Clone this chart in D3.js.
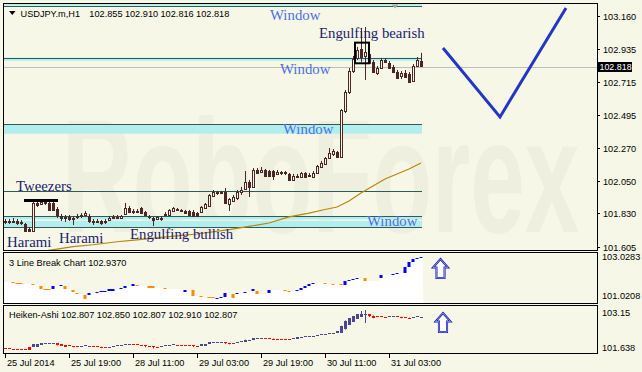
<!DOCTYPE html>
<html><head><meta charset="utf-8">
<script src="https://cdn.jsdelivr.net/npm/d3@7"></script>
<style>html,body{margin:0;padding:0;background:#F7F7E7;}svg{display:block;}</style>
</head><body><svg id="c" width="642" height="372"></svg>
<script>
// ---------------- DATA ----------------
const symbolTitle = "USDJPY.m,H1";
const headerOHLC = ["102.855","102.910","102.816","102.818"];
const timeTickBars = [0,16,32,48,64,80,96];
const timeTickLabels = ["25 Jul 2014","25 Jul 19:00","28 Jul 11:00","29 Jul 03:00","29 Jul 19:00","30 Jul 11:00","31 Jul 03:00"];
const priceTicks = [103.160,102.935,102.715,102.495,102.270,102.050,101.830,101.605];
const lastPrice = 102.818;

const opens = [
101.772,101.779,101.772,101.779,101.765,101.758,101.725,101.711,101.900,101.893,
101.907,101.900,101.900,101.859,101.812,101.799,101.806,101.792,101.806,101.812,
101.819,101.812,101.779,101.772,101.779,101.772,101.785,101.799,101.806,101.799,
101.826,101.866,101.846,101.839,101.866,101.839,101.806,101.799,101.792,101.799,
101.819,101.819,101.846,101.859,101.853,101.846,101.846,101.839,101.832,101.839,
101.866,101.880,101.947,101.974,101.967,101.974,101.893,101.913,101.933,101.974,
101.994,102.041,102.008,102.122,102.108,102.122,102.115,102.115,102.095,102.108,
102.102,102.095,102.055,102.081,102.075,102.102,102.081,102.075,102.102,102.142,
102.162,102.203,102.230,102.243,102.209,102.519,102.647,102.788,102.876,102.936,
102.889,102.903,102.849,102.775,102.808,102.862,102.842,102.815,102.781,102.754,
102.775,102.768,102.721,102.822,102.855];
const highs = [
101.792,101.792,101.799,101.792,101.785,101.765,101.738,101.907,101.920,101.920,
101.920,101.920,101.920,101.873,101.826,101.819,101.819,101.812,101.826,101.832,
101.846,101.826,101.792,101.792,101.785,101.792,101.812,101.819,101.819,101.819,
101.900,101.880,101.859,101.859,101.873,101.846,101.819,101.806,101.812,101.812,
101.839,101.859,101.873,101.866,101.859,101.853,101.853,101.853,101.839,101.880,
101.900,101.960,101.987,101.981,101.981,102.001,101.933,101.954,101.987,102.008,
102.115,102.055,102.135,102.135,102.142,102.129,102.122,102.122,102.122,102.115,
102.115,102.102,102.095,102.095,102.108,102.108,102.102,102.115,102.156,102.183,
102.209,102.270,102.263,102.250,102.532,102.660,102.808,102.889,102.950,103.078,
103.084,102.923,102.862,102.822,102.876,102.876,102.855,102.829,102.795,102.788,
102.795,102.781,102.835,102.882,102.910];
const lows = [
101.758,101.758,101.765,101.752,101.752,101.705,101.705,101.705,101.873,101.886,
101.886,101.846,101.846,101.799,101.779,101.772,101.779,101.752,101.792,101.799,
101.812,101.765,101.752,101.765,101.752,101.758,101.779,101.792,101.792,101.792,
101.819,101.832,101.826,101.832,101.826,101.812,101.792,101.745,101.785,101.779,
101.812,101.812,101.839,101.846,101.839,101.826,101.812,101.806,101.806,101.832,
101.859,101.873,101.940,101.954,101.960,101.893,101.846,101.907,101.920,101.954,
101.987,101.940,102.001,102.095,102.102,102.075,102.075,102.055,102.088,102.088,
102.088,102.048,102.048,102.068,102.068,102.068,102.075,102.068,102.095,102.135,
102.156,102.196,102.216,102.203,102.203,102.505,102.633,102.775,102.862,102.849,
102.728,102.835,102.775,102.761,102.802,102.842,102.802,102.775,102.734,102.734,
102.741,102.707,102.714,102.815,102.816];
const closes = [
101.779,101.772,101.779,101.765,101.772,101.711,101.711,101.900,101.886,101.907,
101.900,101.853,101.853,101.819,101.799,101.806,101.792,101.799,101.812,101.819,
101.832,101.779,101.772,101.779,101.765,101.779,101.799,101.806,101.799,101.812,
101.866,101.839,101.839,101.846,101.832,101.819,101.803,101.785,101.806,101.795,
101.826,101.853,101.866,101.853,101.846,101.832,101.819,101.812,101.812,101.873,
101.893,101.954,101.974,101.967,101.974,101.900,101.927,101.940,101.974,101.987,
102.041,102.008,102.122,102.102,102.122,102.081,102.081,102.081,102.108,102.102,
102.108,102.055,102.081,102.075,102.102,102.075,102.088,102.102,102.149,102.169,
102.203,102.236,102.250,102.209,102.526,102.647,102.788,102.869,102.930,102.882,
102.916,102.842,102.781,102.808,102.862,102.849,102.808,102.781,102.741,102.775,
102.748,102.714,102.822,102.862,102.818];

// moving average (bar index, value)
const maPoints = [[10,101.577],[13,101.590],[17,101.606],[22,101.619],[28,101.639],[33,101.651],[39,101.668],
 [48,101.691],[56,101.721],[61,101.742],[66,101.765],[71,101.806],[76,101.832],[80,101.856],[83,101.873],
 [86,101.913],[89,101.967],[92,102.014],[95,102.061],[98,102.095],[101,102.129],[104,102.169]];

// window bands [upper, lower] and level lines
const windowBands = [[103.245,103.228],[102.878,102.857],[102.429,102.366],[101.812,101.789],[101.779,101.738]];
const levelLines = [103.224,102.878,102.429,101.983,101.812,101.738];

// pattern labels [text, bar, price, kind]
const patternLabels = [
 ["Window",66.25,103.131,"w"],["Engulfing bearish",78.5,103.010,"p"],["Window",68.75,102.768,"w"],
 ["Window",69.5,102.364,"w"],["Tweezers",2.75,101.981,"p"],["Window",90.5,101.745,"w"],
 ["Harami",0.5,101.604,"p"],["Harami",13.5,101.631,"p"],["Engulfing bullish",31.25,101.658,"p"]];
const engulfBox = [87.5,91,102.979,102.840];   // bar from, bar to, price top, price bottom
const tweezersBar = [4.75,13.25,101.917];
const forecast = [[109.5,102.943],[123.75,102.479],[140.25,103.212]];

// 3 Line Break [bar from, bar to, low, high, type]
const lbTitle = "3 Line Break Chart 102.9370";
const lbScaleLabels = ["103.0283","101.0208"];
const lbBricks = [
[0,1,101.857,101.857,'w'],[2,2,101.815,101.857,'d'],[3,4,101.761,101.815,'d'],[5,6,101.761,101.761,'w'],
[7,7,101.732,101.761,'d'],[8,8,101.732,101.732,'w'],[9,9,101.552,101.690,'d'],[10,11,101.523,101.552,'d'],
[12,12,101.552,101.690,'u'],[13,13,101.690,101.690,'w'],[14,14,101.690,101.732,'u'],[15,15,101.552,101.690,'d'],
[16,16,101.552,101.552,'w'],[17,17,101.439,101.502,'d'],[18,18,101.355,101.418,'d'],[19,19,101.355,101.355,'w'],
[20,20,101.134,101.314,'d'],[21,21,101.314,101.410,'u'],[22,22,101.410,101.410,'w'],[23,23,101.410,101.439,'u'],
[24,25,101.439,101.481,'u'],[26,27,101.481,101.552,'u'],[28,28,101.552,101.552,'w'],[29,29,101.552,101.619,'u'],
[30,30,101.619,101.690,'u'],[31,31,101.690,101.690,'w'],[32,32,101.690,101.753,'u'],[33,33,101.690,101.732,'d'],
[34,35,101.690,101.690,'w'],[36,37,101.619,101.690,'d'],[38,39,101.619,101.619,'w'],[40,40,101.552,101.619,'d'],
[41,44,101.552,101.552,'w'],[45,45,101.452,101.523,'u'],[46,46,101.452,101.452,'w'],[47,47,101.284,101.523,'d'],
[48,48,101.284,101.284,'w'],[49,49,101.242,101.284,'d'],[50,50,101.242,101.242,'w'],[51,52,101.176,101.230,'d'],
[53,53,101.176,101.209,'u'],[54,54,101.209,101.242,'u'],[55,55,101.242,101.385,'u'],[56,56,101.385,101.385,'w'],
[57,57,101.201,101.355,'d'],[58,58,101.355,101.385,'u'],[59,59,101.385,101.385,'w'],[60,60,101.385,101.452,'u'],
[61,61,101.452,101.452,'w'],[62,62,101.481,101.552,'u'],[63,63,101.355,101.481,'d'],[64,65,101.355,101.355,'w'],
[66,66,101.385,101.523,'u'],[67,69,101.523,101.523,'w'],[70,70,101.493,101.523,'d'],[71,71,101.468,101.493,'d'],
[72,72,101.468,101.468,'w'],[73,73,101.468,101.523,'u'],[74,74,101.523,101.606,'u'],[75,75,101.606,101.690,'u'],
[76,76,101.690,101.753,'u'],[77,77,101.753,101.815,'u'],[78,79,101.815,101.815,'w'],[80,80,101.786,101.815,'d'],
[81,81,101.786,101.786,'w'],[82,82,101.761,101.786,'d'],[83,83,101.761,101.761,'w'],[84,84,101.732,101.761,'d'],
[85,85,101.732,101.899,'u'],[86,86,101.899,101.941,'u'],[87,87,101.941,101.983,'u'],[88,88,101.983,102.004,'u'],
[89,89,102.004,102.004,'w'],[90,90,101.899,102.004,'d'],[91,93,101.899,101.899,'w'],[94,94,102.037,102.150,'u'],
[95,96,102.150,102.150,'w'],[97,97,102.150,102.204,'u'],[98,98,102.204,102.234,'u'],[99,99,102.234,102.234,'w'],
[100,100,102.246,102.497,'u'],[101,101,102.497,102.681,'u'],[102,102,102.681,102.819,'u'],[103,103,102.819,102.873,'u'],
[104,104,102.873,102.915,'u']];

// Heiken-Ashi
const haTitle = "Heiken-Ashi 102.807 102.850 102.807 102.910 102.807";
const haScaleLabels = ["103.15","101.638"];
const haOpen = [
101.776,101.765,101.758,101.758,101.752,101.748,101.810,101.776,101.844,101.879,
101.913,101.923,101.930,101.937,101.913,101.879,101.862,101.844,101.837,101.827,
101.837,101.844,101.851,101.837,101.820,101.810,101.803,101.817,101.837,101.855,
101.872,101.896,101.906,101.896,101.879,101.868,101.851,101.831,101.810,101.803,
101.820,101.844,101.865,101.886,101.882,101.879,101.872,101.862,101.844,101.834,
101.865,101.896,101.934,101.958,101.965,101.968,101.954,101.941,101.947,101.965,
101.982,102.016,102.030,102.064,102.088,102.109,102.102,102.099,102.088,102.085,
102.081,102.078,102.068,102.092,102.126,102.143,102.157,102.171,102.188,102.209,
102.229,102.246,102.264,102.277,102.308,102.422,102.566,102.686,102.789,102.868,
102.916,102.927,102.892,102.858,102.858,102.851,102.848,102.858,102.865,102.848,
102.830,102.820,102.806,102.824,102.807];
const haClose = [
101.752,101.748,101.741,101.741,101.734,101.724,101.707,101.896,101.930,101.937,
101.937,101.937,101.941,101.879,101.844,101.827,101.827,101.820,101.827,101.851,
101.862,101.855,101.827,101.803,101.786,101.793,101.827,101.855,101.868,101.886,
101.920,101.913,101.886,101.868,101.855,101.827,101.810,101.782,101.793,101.834,
101.862,101.886,101.906,101.879,101.872,101.865,101.848,101.827,101.820,101.896,
101.923,101.971,101.982,101.971,101.975,101.941,101.927,101.954,101.982,101.999,
102.050,102.044,102.102,102.112,102.126,102.099,102.092,102.078,102.078,102.078,
102.075,102.057,102.119,102.154,102.164,102.171,102.181,102.202,102.229,102.250,
102.264,102.284,102.291,102.343,102.532,102.703,102.806,102.892,102.944,102.961,
102.934,102.858,102.824,102.841,102.844,102.841,102.865,102.875,102.830,102.813,
102.806,102.796,102.841,102.858,102.850];
const haWicks = [[13,101.937,101.862],[17,101.844,101.800],[24,101.820,101.770],[35,101.868,101.800],
 [37,101.831,101.760],[47,101.862,101.805],[55,101.968,101.915],[56,101.954,101.900],[60,102.060,101.982],
 [67,102.099,102.060],[84,102.540,102.300],[85,102.720,102.410],[89,103.047,102.860],[90,103.081,102.635],
 [91,102.935,102.840],[92,102.892,102.800],[99,102.848,102.795],[101,102.820,102.775]];

// ---------------- DRAW ----------------
const W = 642, H = 372;
const BG = "#F7F7E7", FONT = "'Liberation Sans', Arial, sans-serif", SERIF = "'Liberation Serif','Times New Roman',serif";
const L = 4, R = 597;
const M = {top:4, bot:250}, P2 = {top:253, bot:303}, P3 = {top:306, bot:353};
const svg = d3.select("#c");
svg.append("rect").attr("width", W).attr("height", H).attr("fill", BG);

const x = d3.scaleLinear().domain([0, 104]).range([5, 421]);
const y = d3.scaleLinear().domain([101.5835, 103.239]).range([M.bot, M.top]);
const y2 = d3.scaleLinear().domain([101.0208, 103.0283]).range([302, 254]);
const y3 = d3.scaleLinear().domain([101.638, 103.15]).range([352, 308]);
const n = closes.length;
const idx = d3.range(n);

const defs = svg.append("defs");
defs.append("clipPath").attr("id","cm").append("rect").attr("x",L).attr("y",M.top).attr("width",R-L).attr("height",M.bot-M.top);

// main panel
const gm = svg.append("g").attr("clip-path","url(#cm)");
gm.append("text").attr("transform","translate(62,232) scale(1,1.65)").attr("font-family",FONT).attr("font-weight","bold")
  .attr("font-size",98).attr("fill","#EFEFDF").text("RoboForex");

const xEnd = x(n-1) + 1;
gm.selectAll(".band").data(windowBands).join("rect")
  .attr("x", L).attr("width", xEnd - L)
  .attr("y", d => y(d[0])).attr("height", d => Math.max(1, y(d[1]) - y(d[0])))
  .attr("fill", "#B2EEEE");
gm.selectAll(".lvl").data(levelLines).join("line")
  .attr("x1", L).attr("x2", xEnd)
  .attr("y1", d => Math.round(y(d)) + 0.5).attr("y2", d => Math.round(y(d)) + 0.5)
  .attr("stroke", "#2F5A5A").attr("stroke-width", 1);

// current price line
gm.append("line").attr("x1",L).attr("x2",R).attr("y1",Math.round(y(lastPrice))+0.5).attr("y2",Math.round(y(lastPrice))+0.5)
  .attr("stroke","#BDBDBD").attr("stroke-width",1);

// moving average
gm.append("path").datum(maPoints)
  .attr("d", d3.line().x(d => x(d[0])).y(d => y(d[1])))
  .attr("fill","none").attr("stroke","#B8860B").attr("stroke-width",1.2);

// candles
const CD = "#4B2626";
const cg = gm.append("g");
cg.selectAll(".wick").data(idx).join("line")
  .attr("x1", i => Math.round(x(i)) + 0.5).attr("x2", i => Math.round(x(i)) + 0.5)
  .attr("y1", i => y(highs[i])).attr("y2", i => y(lows[i]))
  .attr("stroke", CD).attr("stroke-width", 1);
cg.selectAll(".body").data(idx).join("rect")
  .each(function(i){
    const bull = closes[i] >= opens[i];
    const top = y(Math.max(opens[i], closes[i])), bot = y(Math.min(opens[i], closes[i]));
    const xi = Math.round(x(i));
    const s = d3.select(this);
    if (bull) {
      s.attr("x", xi - 0.5).attr("width", 2).attr("y", Math.round(top) + 0.5)
       .attr("height", Math.max(1, Math.round(bot - top))).attr("fill", BG).attr("stroke", CD).attr("stroke-width", 1);
    } else {
      s.attr("x", xi - 1).attr("width", 3).attr("y", Math.round(top))
       .attr("height", Math.max(1, Math.round(bot - top) + 1)).attr("fill", CD);
    }
  });

// pattern marks
gm.append("rect").attr("x", x(engulfBox[0])).attr("y", y(engulfBox[2]))
  .attr("width", x(engulfBox[1]) - x(engulfBox[0])).attr("height", y(engulfBox[3]) - y(engulfBox[2]))
  .attr("fill","none").attr("stroke","#000").attr("stroke-width",2);
gm.append("line").attr("x1", x(tweezersBar[0])).attr("x2", x(tweezersBar[1]))
  .attr("y1", y(tweezersBar[2])).attr("y2", y(tweezersBar[2]))
  .attr("stroke","#000").attr("stroke-width",3);

gm.selectAll(".plab").data(patternLabels).join("text")
  .attr("x", d => x(d[1])).attr("y", d => y(d[2]))
  .attr("font-family", SERIF).attr("font-size", 14.8)
  .attr("fill", d => d[3] === "w" ? "#4E6FE0" : "#1C1C70")
  .text(d => d[0]);

// forecast zigzag
gm.append("path").datum(forecast)
  .attr("d", d3.line().x(d => x(d[0])).y(d => y(d[1])))
  .attr("fill","none").attr("stroke","#2238C4").attr("stroke-width",3).attr("stroke-linejoin","miter");

// shift marker
gm.append("path").attr("d","M391.5,4.5 L398.5,4.5 L395,8.5 Z").attr("fill","#A8A8A8");

// header
svg.append("path").attr("d","M9,11 L15.5,11 L12.25,15 Z").attr("fill","#000");
svg.append("text").attr("x",20.5).attr("y",17).attr("font-family",FONT).attr("font-size",9.2).attr("fill","#000").text(symbolTitle);
svg.selectAll(".hv").data(headerOHLC).join("text")
  .attr("x",(d,i)=>89.3 + i*35.6).attr("y",17).attr("font-family",FONT).attr("font-size",9.2).attr("fill","#000").text(d=>d);

// right price axis
const ax = svg.append("g");
priceTicks.forEach(p => {
  const yy = Math.round(y(p)) + 0.5;
  ax.append("line").attr("x1",R).attr("x2",R+3).attr("y1",yy).attr("y2",yy).attr("stroke","#000");
  ax.append("text").attr("x",603).attr("y",yy+3.3).attr("font-family",FONT).attr("font-size",9.2).attr("fill","#000").text(p.toFixed(3));
});
const ly = Math.round(y(lastPrice));
ax.append("rect").attr("x",598).attr("y",ly-5).attr("width",34).attr("height",10).attr("fill","#000");
ax.append("text").attr("x",599.5).attr("y",ly+3.3).attr("font-family",FONT).attr("font-size",8.9).attr("fill","#fff").text(lastPrice.toFixed(3));

// panel 2 : 3 line break
const g2 = svg.append("g");
lbBricks.forEach(b => {
  const x0 = Math.round(x(b[0])) - 2, x1 = Math.round(x(b[1])) + 2;
  const yl = Math.round(y2(b[2])), yh = Math.round(y2(b[3]));
  g2.append("rect").attr("x",x0).attr("width",x1-x0).attr("y",yl).attr("height",P2.bot-yl).attr("fill","#FFFFFF");
  if (b[4] !== "w") {
    g2.append("rect").attr("x",x0+0.5).attr("width",x1-x0-1).attr("y",yh).attr("height",Math.max(1,yl-yh))
      .attr("fill", b[4] === "u" ? "#0000FF" : "#FF8C00");
  }
});
g2.append("text").attr("x",9).attr("y",266).attr("font-family",FONT).attr("font-size",9.2).attr("fill","#000").text(lbTitle);
g2.append("text").attr("x",602).attr("y",260).attr("font-family",FONT).attr("font-size",9.2).text(lbScaleLabels[0]);
g2.append("text").attr("x",602).attr("y",298.5).attr("font-family",FONT).attr("font-size",9.2).text(lbScaleLabels[1]);

function upArrow(g, cx, top, h, w) {
  const hw = w/2, sh = w*0.27, headH = h*0.45;
  const d = `M${cx},${top} L${cx+hw},${top+headH} L${cx+sh},${top+headH} L${cx+sh},${top+h} L${cx-sh},${top+h} L${cx-sh},${top+headH} L${cx-hw},${top+headH} Z`;
  g.append("path").attr("d",d).attr("fill","#FFFFFF").attr("stroke","#1818B8").attr("stroke-width",2).attr("stroke-linejoin","miter");
  g.append("path").attr("d",d).attr("fill","none").attr("stroke","#9CA8F0").attr("stroke-width",0.8);
}
upArrow(g2, 440.5, 259, 19, 15);

// panel 3 : heiken ashi
const g3 = svg.append("g");
const HA_UP = "#4B4694", HA_DN = "#FF0000";
haWicks.forEach(w => {
  const xi = Math.round(x(w[0])) + 0.5;
  const col = haClose[w[0]] >= haOpen[w[0]] ? HA_UP : HA_DN;
  g3.append("line").attr("x1",xi).attr("x2",xi).attr("y1",y3(w[1])).attr("y2",y3(w[2])).attr("stroke",col).attr("stroke-width",1);
});
g3.selectAll(".ha").data(idx).join("rect")
  .attr("x", i => Math.round(x(i)) - 1).attr("width", 3)
  .attr("y", i => Math.round(y3(Math.max(haOpen[i], haClose[i]))))
  .attr("height", i => Math.max(1, Math.round(Math.abs(y3(haOpen[i]) - y3(haClose[i])))))
  .attr("fill", i => haClose[i] >= haOpen[i] ? HA_UP : HA_DN);
g3.append("text").attr("x",9).attr("y",318).attr("font-family",FONT).attr("font-size",9.2).attr("fill","#000").text(haTitle);
g3.append("text").attr("x",602).attr("y",315.5).attr("font-family",FONT).attr("font-size",9.2).text(haScaleLabels[0]);
g3.append("text").attr("x",602).attr("y",351).attr("font-family",FONT).attr("font-size",9.2).text(haScaleLabels[1]);
upArrow(g3, 443, 313, 19, 15);

// panel borders
[[M.top, M.bot],[P2.top, P2.bot],[P3.top, P3.bot]].forEach(p => {
  svg.append("rect").attr("x",L-0.5).attr("y",p[0]-0.5).attr("width",R-L+1).attr("height",p[1]-p[0]+1)
    .attr("fill","none").attr("stroke","#000").attr("stroke-width",1);
});

// time axis
timeTickBars.forEach((b,i) => {
  const xx = Math.round(x(b)) + 0.5;
  svg.append("line").attr("x1",xx).attr("x2",xx).attr("y1",P3.bot+0.5).attr("y2",P3.bot+5).attr("stroke","#000");
  svg.append("text").attr("x",xx+1.5).attr("y",366).attr("font-family",FONT).attr("font-size",9.2).attr("fill","#000").text(timeTickLabels[i]);
});
</script></body></html>
